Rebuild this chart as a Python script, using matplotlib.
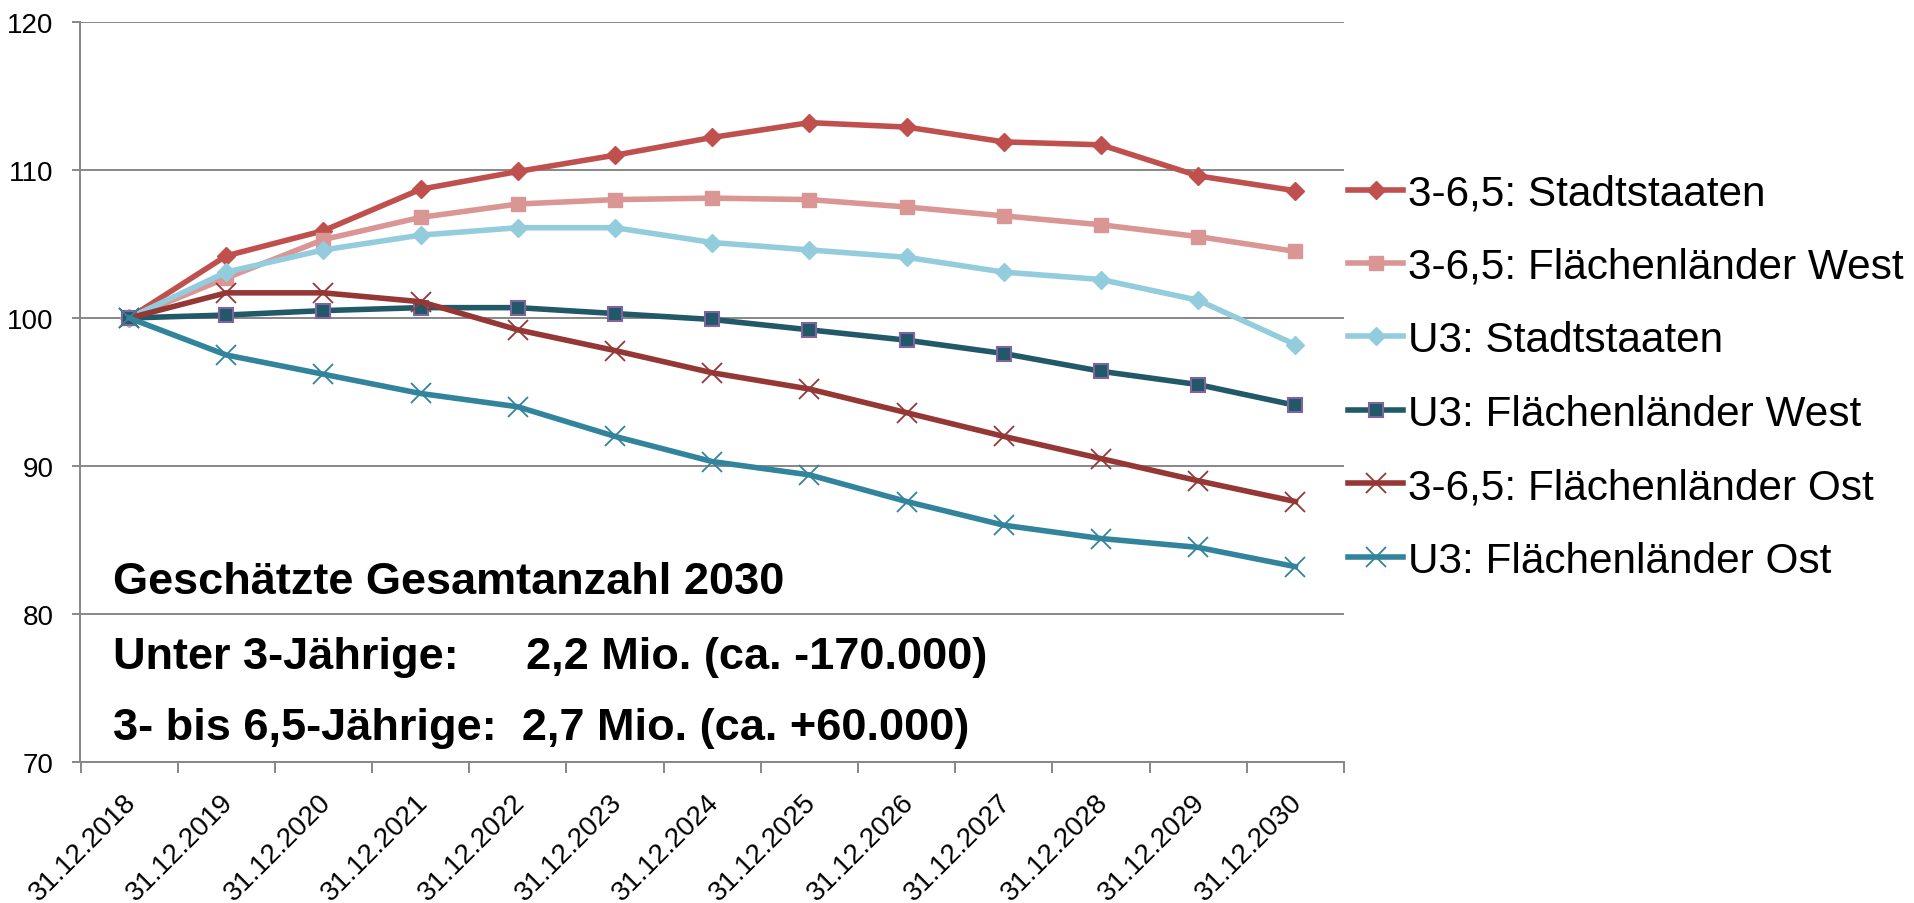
import matplotlib
matplotlib.use("Agg")
import matplotlib.pyplot as plt
from matplotlib.transforms import ScaledTranslation
import numpy as np

plt.rcParams['font.family'] = ['Liberation Sans', 'DejaVu Sans']

categories = ["31.12.2018", "31.12.2019", "31.12.2020", "31.12.2021", "31.12.2022",
              "31.12.2023", "31.12.2024", "31.12.2025", "31.12.2026", "31.12.2027",
              "31.12.2028", "31.12.2029", "31.12.2030"]

s_36_stadt = [100, 104.2, 105.9, 108.7, 109.9, 111.0, 112.2, 113.2, 112.9, 111.9, 111.7, 109.6, 108.6]
s_36_west = [100, 102.7, 105.3, 106.8, 107.7, 108.0, 108.1, 108.0, 107.5, 106.9, 106.3, 105.5, 104.5]
s_u3_stadt = [100, 103.1, 104.6, 105.6, 106.1, 106.1, 105.1, 104.6, 104.1, 103.1, 102.6, 101.2, 98.2]
s_u3_west = [100, 100.2, 100.5, 100.7, 100.7, 100.3, 99.9, 99.2, 98.5, 97.6, 96.4, 95.5, 94.1]
s_36_ost = [100, 101.7, 101.7, 101.1, 99.2, 97.8, 96.3, 95.2, 93.6, 92.0, 90.5, 89.0, 87.6]
s_u3_ost = [100, 97.5, 96.2, 94.9, 94.0, 92.0, 90.3, 89.4, 87.6, 86.0, 85.1, 84.5, 83.2]

series_labels = ["3-6,5: Stadtstaaten", "3-6,5: Flächenländer West", "U3: Stadtstaaten",
                 "U3: Flächenländer West", "3-6,5: Flächenländer Ost", "U3: Flächenländer Ost"]

y_ticks = [70, 80, 90, 100, 110, 120]

note_title = "Geschätzte Gesamtanzahl 2030"
note_u3_label = "Unter 3-Jährige:"
note_u3_value = "2,2 Mio. (ca. -170.000)"
note_36 = "3- bis 6,5-Jährige:  2,7 Mio. (ca. +60.000)"

W, H = 1915, 904
fig = plt.figure(figsize=(W / 100, H / 100), dpi=100)
ax = fig.add_axes([80.5 / W, 1 - 763 / H, (1344 - 80.5) / W, (763 - 23) / H])

x = np.arange(len(categories))
styles = [
    dict(color='#C0504D', marker='D', ms=9.5, mfc='#C0504D', mec='#C0504D', mew=1),
    dict(color='#D99694', marker='s', ms=10, mfc='#D99694', mec='#D99694', mew=1),
    dict(color='#93CDDD', marker='D', ms=9.5, mfc='#93CDDD', mec='#93CDDD', mew=1),
    dict(color='#215968', marker='s', ms=10, mfc='#215968', mec='#8064A2', mew=1.5),
    dict(color='#953735', marker='x', ms=15, mec='#953735', mew=1.3),
    dict(color='#31849B', marker='x', ms=15, mec='#31849B', mew=1.3),
]
all_series = [s_36_stadt, s_36_west, s_u3_stadt, s_u3_west, s_36_ost, s_u3_ost]
for vals, lab, st in zip(all_series, series_labels, styles):
    ax.plot(x, vals, lw=4, label=lab, solid_joinstyle='round', **st)

ax.set_xlim(-0.5, len(categories) - 0.5)
ax.set_ylim(70, 120)
ax.set_yticks(y_ticks)
ax.yaxis.grid(True, color='#878787', lw=1.4)
ax.set_axisbelow(True)

grey = '#878787'
for s in ['top', 'right']:
    ax.spines[s].set_visible(False)
for s in ['left', 'bottom']:
    ax.spines[s].set_color(grey)
    ax.spines[s].set_linewidth(1.4)

ax.tick_params(axis='y', direction='out', length=6, width=1.4, color=grey,
               labelsize=20, pad=13.5)
ax.set_xticks(x)
ax.set_xticklabels(categories, rotation=45, ha='right', va='top', rotation_mode='anchor')
ax.tick_params(axis='x', which='major', length=0, labelsize=20, pad=19)
ax.set_xticks(np.arange(-0.5, len(categories), 1), minor=True)
ax.tick_params(axis='x', which='minor', direction='out', length=8, width=1.4, color=grey)
off = ScaledTranslation(-6 / 100, 0, fig.dpi_scale_trans)
for lbl in ax.get_xticklabels():
    lbl.set_transform(lbl.get_transform() + off)

leg = fig.legend(loc='center left', bbox_to_anchor=(1348 / W, 1 - 378 / H),
                 frameon=False, fontsize=30.5, handlelength=1.3, handletextpad=0.12,
                 labelspacing=0.79, borderpad=0, borderaxespad=0, numpoints=1)

def px(xp, yp):
    return xp / W, 1 - yp / H

fs = 32.5
fig.text(*px(113, 594), note_title, fontsize=fs, fontweight='bold', va='baseline', ha='left')
fig.text(*px(113, 669), note_u3_label, fontsize=fs, fontweight='bold', va='baseline', ha='left')
fig.text(*px(526, 669), note_u3_value, fontsize=fs, fontweight='bold', va='baseline', ha='left')
fig.text(*px(113, 740), note_36, fontsize=fs, fontweight='bold', va='baseline', ha='left')

fig.savefig("out.png", dpi=100)
